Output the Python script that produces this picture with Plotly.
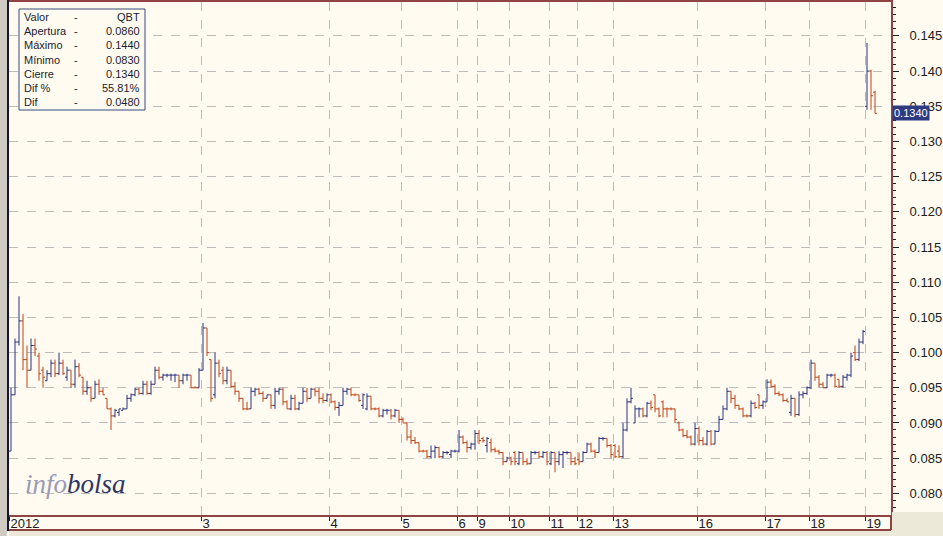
import plotly.graph_objects as go

# ---------------- data ----------------
PRICE_UNIT = 0.0001  # prices below are written in ten-thousandths

day_labels = ["2012", "3", "4", "5", "6", "9", "10", "11", "12", "13", "16", "17", "18", "19"]
day_start_bar = [0, 48, 80, 98, 112, 117, 125, 135, 142, 151, 172, 189, 200, 214]

opens = [
    860, 940, 1015, 1045, 990, 975, 1010, 995, 975, 960, 970, 985, 970, 985, 965, 975, 955, 980, 965, 945,
    950, 935, 955, 945, 935, 920, 910, 915, 918, 920, 935, 940, 948, 942, 955, 942, 955, 975, 965, 968,
    968, 968, 968, 960, 968, 968, 950, 950, 975, 1035, 990, 940, 985, 975, 960, 975, 952, 945, 935, 920,
    920, 945, 948, 942, 935, 940, 925, 945, 948, 930, 920, 935, 920, 928, 945, 935, 948, 945, 935, 932,
    940, 930, 922, 925, 945, 948, 940, 940, 925, 920, 938, 920, 920, 910, 918, 918, 910, 918, 905, 900,
    880, 875, 872, 860, 860, 852, 860, 865, 852, 858, 855, 860, 860, 880, 872, 865, 870, 885, 878, 868,
    872, 862, 860, 858, 845, 850, 858, 842, 858, 845, 842, 858, 858, 852, 858, 842, 858, 845, 855, 858,
    858, 845, 848, 845, 858, 870, 860, 858, 878, 878, 868, 868, 860, 852, 890, 930, 900, 920, 920, 910,
    928, 940, 920, 930, 920, 920, 920, 900, 890, 882, 880, 870, 892, 875, 870, 888, 870, 888, 905, 920,
    945, 935, 925, 920, 910, 910, 928, 940, 925, 930, 958, 952, 942, 940, 932, 915, 935, 912, 940, 942,
    950, 985, 965, 955, 950, 968, 968, 962, 952, 965, 968, 1000, 990, 1015, 1350, 1400, 1370,
]
highs = [
    950, 1020, 1080, 1055, 1010, 1020, 1020, 1000, 980, 975, 990, 990, 1000, 990, 980, 975, 990, 985, 965, 960,
    952, 960, 962, 950, 935, 922, 920, 920, 922, 940, 942, 950, 950, 960, 960, 960, 980, 980, 970, 970,
    970, 970, 968, 970, 970, 968, 952, 978, 1042, 1035, 990, 1000, 990, 980, 980, 975, 958, 945, 935, 930,
    950, 950, 950, 945, 940, 940, 950, 950, 950, 932, 940, 940, 930, 950, 950, 950, 950, 950, 942, 942,
    942, 932, 930, 950, 950, 950, 942, 940, 942, 942, 938, 922, 922, 920, 920, 920, 920, 918, 908, 900,
    890, 880, 872, 862, 862, 868, 868, 866, 860, 860, 862, 862, 890, 882, 875, 872, 890, 890, 880, 880,
    878, 865, 862, 858, 852, 852, 860, 860, 858, 850, 860, 860, 860, 860, 860, 860, 858, 860, 860, 860,
    858, 852, 858, 860, 872, 872, 862, 880, 880, 878, 870, 870, 868, 900, 935, 950, 925, 922, 922, 930,
    932, 940, 922, 932, 922, 922, 920, 902, 892, 890, 882, 900, 895, 880, 890, 890, 890, 910, 925, 950,
    945, 940, 925, 922, 912, 932, 930, 940, 932, 962, 962, 955, 945, 942, 935, 940, 935, 945, 945, 952,
    990, 985, 968, 958, 970, 970, 970, 962, 968, 970, 1000, 1010, 1020, 1032, 1440, 1402, 1372,
]
lows = [
    860, 940, 1010, 975, 950, 975, 995, 960, 950, 960, 965, 965, 968, 968, 960, 950, 950, 965, 940, 940,
    930, 935, 940, 940, 920, 890, 908, 910, 918, 920, 930, 938, 940, 940, 940, 940, 955, 962, 960, 965,
    960, 958, 950, 955, 960, 950, 950, 950, 975, 995, 930, 935, 965, 955, 955, 950, 940, 930, 918, 918,
    920, 938, 940, 930, 935, 920, 920, 940, 925, 920, 918, 918, 918, 928, 930, 935, 938, 928, 928, 930,
    928, 918, 910, 925, 940, 938, 938, 930, 920, 918, 918, 918, 908, 908, 912, 905, 908, 900, 900, 875,
    870, 870, 858, 858, 850, 850, 850, 850, 850, 855, 850, 858, 858, 870, 858, 862, 862, 870, 872, 858,
    858, 858, 855, 840, 845, 840, 840, 840, 840, 840, 842, 855, 850, 850, 840, 840, 830, 840, 836, 855,
    840, 840, 840, 845, 858, 858, 850, 858, 875, 865, 850, 850, 850, 850, 888, 928, 900, 908, 908, 908,
    918, 915, 908, 908, 908, 918, 900, 888, 880, 878, 868, 868, 868, 868, 868, 868, 870, 888, 905, 918,
    928, 920, 918, 908, 908, 908, 920, 920, 920, 930, 950, 940, 938, 930, 930, 910, 908, 910, 935, 940,
    948, 960, 950, 950, 950, 965, 950, 950, 950, 960, 965, 988, 988, 1012, 1345, 1345, 1340,
]
closes = [
    940, 1015, 1045, 990, 975, 1010, 1005, 970, 965, 970, 985, 970, 985, 970, 975, 955, 980, 968, 945, 950,
    935, 955, 945, 940, 920, 910, 918, 920, 920, 935, 940, 948, 942, 955, 942, 955, 975, 965, 968, 968,
    968, 968, 960, 968, 968, 950, 950, 975, 1035, 1000, 935, 985, 970, 960, 975, 952, 945, 935, 920, 920,
    945, 948, 942, 935, 940, 925, 945, 948, 930, 920, 935, 920, 928, 945, 935, 948, 945, 935, 932, 940,
    930, 922, 925, 945, 948, 940, 940, 932, 940, 938, 920, 920, 910, 918, 918, 910, 918, 905, 900, 880,
    875, 872, 860, 860, 852, 860, 865, 852, 858, 858, 860, 860, 880, 872, 865, 870, 885, 875, 875, 878,
    862, 860, 858, 845, 850, 845, 845, 858, 845, 842, 858, 858, 852, 858, 845, 858, 845, 855, 858, 858,
    845, 842, 845, 858, 870, 860, 858, 878, 878, 868, 855, 852, 852, 890, 930, 935, 920, 920, 910, 928,
    922, 920, 910, 920, 920, 920, 905, 890, 882, 880, 870, 892, 875, 870, 888, 870, 888, 905, 920, 945,
    935, 925, 920, 910, 910, 928, 922, 925, 930, 958, 952, 942, 940, 932, 930, 935, 912, 940, 942, 950,
    985, 965, 955, 950, 968, 968, 952, 952, 965, 968, 995, 990, 1015, 1030, 1400, 1365, 1340,
]

legend_labels = ["Valor", "Apertura", "Máximo", "Mínimo", "Cierre", "Dif %", "Dif"]
legend_values = ["QBT", "0.0860", "0.1440", "0.0830", "0.1340", "55.81%", "0.0480"]
last_price_text = "0.1340"

# ---------------- styling ----------------
BG = "#fffbf0"
MAROON = "#8f4343"
GRID = "#bcbcbc"
UP = "#28327f"
DOWN = "#bf4318"
NAVY = "#3b4a7c"
TXT = "#1c1c30"
AXFONT = dict(family="Liberation Sans Narrow, Arial Narrow, Liberation Sans", size=13, color="#202020")

W, H = 943, 536
ML, MR, MT, MB = 9, 52, 2, 21
PW, PH = W - ML - MR, H - MT - MB


def px(x):
    return (x - ML) / PW


def py(y):
    return (H - MB - y) / PH


bars = list(range(len(opens)))
fig = go.Figure(go.Ohlc(
    x=bars,
    open=[v * PRICE_UNIT for v in opens],
    high=[v * PRICE_UNIT for v in highs],
    low=[v * PRICE_UNIT for v in lows],
    close=[v * PRICE_UNIT for v in closes],
    increasing=dict(line=dict(color=UP, width=1)),
    decreasing=dict(line=dict(color=DOWN, width=1)),
    tickwidth=0.5,
    hoverinfo="skip",
))

fig.update_layout(
    width=W, height=H,
    margin=dict(l=ML, r=MR, t=MT, b=MB, autoexpand=False),
    paper_bgcolor=BG, plot_bgcolor=BG,
    showlegend=False,
    xaxis=dict(
        range=[-0.5, 220], rangeslider=dict(visible=False),
        tickvals=[s - 0.5 for s in day_start_bar], ticktext=day_labels,
        ticks="outside", ticklen=4, tickcolor="#202020",
        ticklabelposition="outside right", ticklabelstandoff=-5,
        tickfont=AXFONT,
        showgrid=True, gridcolor=GRID, griddash="dash", gridwidth=1,
        showline=True, linecolor=MAROON, linewidth=2, mirror=True,
        zeroline=False, fixedrange=True, automargin=False,
    ),
    yaxis=dict(
        side="right", range=[0.07692, 0.14982],
        tick0=0.08, dtick=0.005, tickformat=".3f",
        ticks="outside", ticklen=6, tickcolor="#202020",
        ticklabelstandoff=8,
        minor=dict(dtick=0.001, ticks="outside", ticklen=3, tickcolor="#202020", showgrid=False),
        tickfont=AXFONT,
        showgrid=True, gridcolor=GRID, griddash="dash", gridwidth=1,
        showline=True, linecolor=MAROON, linewidth=2,
        zeroline=False, fixedrange=True, automargin=False,
    ),
)

shapes = [
    # left gray frame strip and dark edge
    dict(type="rect", xref="paper", yref="paper", x0=px(0), x1=px(7), y0=py(536), y1=py(0),
         fillcolor="#cfcbc3", line=dict(width=0), layer="above"),
    dict(type="line", xref="paper", yref="paper", x0=px(8), x1=px(8), y0=py(531), y1=py(0),
         line=dict(color="#15153a", width=2), layer="above"),
    # label strip bottom and right borders
    dict(type="line", xref="paper", yref="paper", x0=px(9), x1=px(891), y0=py(530), y1=py(530),
         line=dict(color=MAROON, width=2)),
    dict(type="line", xref="paper", yref="paper", x0=px(891), x1=px(891), y0=py(530), y1=py(515),
         line=dict(color=MAROON, width=2)),
    # bottom-right gray corner and bottom scroll strip
    dict(type="rect", xref="paper", yref="paper", x0=px(892), x1=px(943), y0=py(536), y1=py(512),
         fillcolor="#ece9d8", line=dict(width=0)),
    dict(type="rect", xref="paper", yref="paper", x0=px(9), x1=px(892), y0=py(536), y1=py(531),
         fillcolor="#ece9d8", line=dict(width=0)),
    # info box
    dict(type="rect", xref="paper", yref="paper", x0=px(19), x1=px(145), y0=py(110), y1=py(9),
         fillcolor=BG, line=dict(color=NAVY, width=1), layer="above"),
]

annotations = []
for k, (lab, val) in enumerate(zip(legend_labels, legend_values)):
    yy = py(17 + 14.2 * k)
    f = dict(family="Liberation Sans, Arial", size=11, color=TXT)
    annotations.append(dict(xref="paper", yref="paper", x=px(22), y=yy, text=lab, showarrow=False,
                            xanchor="left", yanchor="middle", font=f))
    annotations.append(dict(xref="paper", yref="paper", x=px(76), y=yy, text="-", showarrow=False,
                            xanchor="center", yanchor="middle", font=f))
    annotations.append(dict(xref="paper", yref="paper", x=px(142), y=yy, text=val, showarrow=False,
                            xanchor="right", yanchor="middle", font=f))

annotations.append(dict(
    xref="paper", yref="paper", x=px(23), y=py(484), xanchor="left", yanchor="middle",
    text="<i><span style='color:#9a9ab8'>info</span><span style='color:#2e3566'>bolsa</span></i>",
    showarrow=False, font=dict(family="Liberation Serif, DejaVu Serif, serif", size=27),
))
annotations.append(dict(
    xref="paper", yref="y", x=1, y=closes[-1] * PRICE_UNIT, xanchor="left", yanchor="middle",
    xshift=1, text=last_price_text, showarrow=False, bgcolor="#2e3a80", borderpad=1,
    font=dict(family="Liberation Sans, Arial", size=11, color="white"),
))

fig.update_layout(shapes=shapes, annotations=annotations)
fig.write_html(
    "out.html",
    config={"displayModeBar": False},
    post_script="document.body.style.margin='0';document.body.style.background='" + BG + "';",
)
